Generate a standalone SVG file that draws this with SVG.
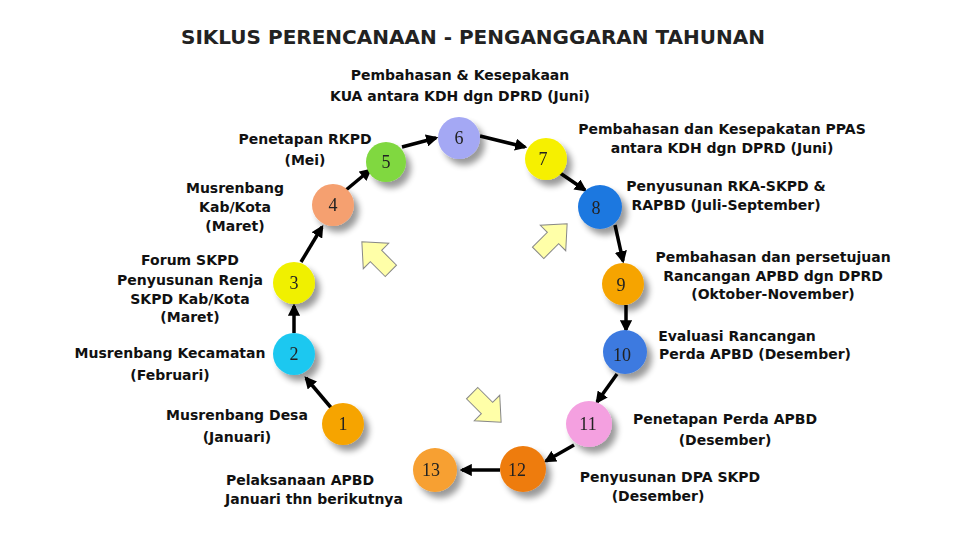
<svg xmlns="http://www.w3.org/2000/svg" width="960" height="540" viewBox="0 0 960 540">
<defs>
<style>
.t{font-family:"DejaVu Sans",Verdana,sans-serif;font-weight:bold;font-size:14px;fill:#111;text-anchor:middle}
.n{font-family:"Liberation Serif",serif;font-size:18px;fill:#222;text-anchor:middle}
.c{stroke:#000;stroke-width:3.5;fill:none;marker-end:url(#ah)}
.blk{fill:#ffffa8;stroke:#888;stroke-width:1}
</style>
<marker id="ah" viewBox="0 0 10 10" refX="8" refY="5" markerWidth="3.5" markerHeight="3.5" orient="auto"><path d="M0,0L10,5L0,10z" fill="#000"/></marker>
<filter id="sh" x="-50%" y="-50%" width="200%" height="200%"><feGaussianBlur in="SourceAlpha" stdDeviation="3"/><feOffset dx="5" dy="6"/><feComponentTransfer><feFuncA type="linear" slope="0.4"/></feComponentTransfer><feMerge><feMergeNode/><feMergeNode in="SourceGraphic"/></feMerge></filter>
<polygon id="blk" points="-21,-8 0,-8 0,-18 20,0 0,18 0,8 -21,8"/>
</defs>
<rect width="960" height="540" fill="#fff"/>
<text x="473" y="44" style="font-family:'DejaVu Sans',Verdana,sans-serif;font-weight:bold;font-size:20px;fill:#222" text-anchor="middle">SIKLUS PERENCANAAN - PENGANGGARAN TAHUNAN</text>
<g id="connectors">
<line class="c" x1="333" y1="410" x2="306" y2="378"/>
<line class="c" x1="294" y1="333" x2="294" y2="306"/>
<line class="c" x1="301" y1="262" x2="322" y2="227"/>
<line class="c" x1="346" y1="190" x2="370" y2="170"/>
<line class="c" x1="402" y1="147" x2="436" y2="138"/>
<line class="c" x1="480" y1="136" x2="525" y2="147"/>
<line class="c" x1="560" y1="173" x2="585" y2="190"/>
<line class="c" x1="615" y1="225" x2="623" y2="261"/>
<line class="c" x1="626" y1="305" x2="626" y2="330"/>
<line class="c" x1="617" y1="374" x2="597" y2="402"/>
<line class="c" x1="574" y1="445" x2="546" y2="461"/>
<line class="c" x1="500" y1="470" x2="462" y2="470"/>
</g>
<g id="hints">
<use href="#blk" class="blk" transform="translate(376,256) rotate(-135)"/>
<use href="#blk" class="blk" transform="translate(553,238) rotate(-45)"/>
<use href="#blk" class="blk" transform="translate(487,408) rotate(45)"/>
</g>
<g id="n1" filter="url(#sh)"><circle cx="343" cy="424" r="21" fill="#f6a400"/><text class="n" x="343" y="430">1</text></g>
<g id="n2" filter="url(#sh)"><circle cx="294" cy="354" r="21" fill="#1ec8f0"/><text class="n" x="294" y="360">2</text></g>
<g id="n3" filter="url(#sh)"><circle cx="294" cy="283" r="21" fill="#f0f000"/><text class="n" x="294" y="289">3</text></g>
<g id="n4" filter="url(#sh)"><circle cx="333" cy="205" r="21" fill="#f5a070"/><text class="n" x="333" y="211">4</text></g>
<g id="n5" filter="url(#sh)"><circle cx="386" cy="162" r="20" fill="#80d840"/><text class="n" x="386" y="168">5</text></g>
<g id="n6" filter="url(#sh)"><circle cx="459" cy="138" r="21" fill="#a4a8f4"/><text class="n" x="459" y="144">6</text></g>
<g id="n7" filter="url(#sh)"><circle cx="546" cy="159" r="21" fill="#f6f000"/><text class="n" x="543" y="165">7</text></g>
<g id="n8" filter="url(#sh)"><circle cx="600" cy="207" r="22" fill="#1e78e0"/><text class="n" x="596" y="214">8</text></g>
<g id="n9" filter="url(#sh)"><circle cx="623" cy="284" r="21" fill="#f6a400"/><text class="n" x="621" y="291">9</text></g>
<g id="n10" filter="url(#sh)"><circle cx="625" cy="352" r="22" fill="#3c7ae0"/><text class="n" x="622" y="361">10</text></g>
<g id="n11" filter="url(#sh)"><circle cx="589" cy="424" r="23" fill="#f4a0e0"/><text class="n" x="588" y="430">11</text></g>
<g id="n12" filter="url(#sh)"><circle cx="523" cy="469" r="23" fill="#ee7c10"/><text class="n" x="517" y="476">12</text></g>
<g id="n13" filter="url(#sh)"><circle cx="435" cy="470" r="22" fill="#f7a030"/><text class="n" x="431" y="476">13</text></g>
<g id="labels">
<text class="t" x="460" y="80">Pembahasan &amp; Kesepakaan</text>
<text class="t" x="460" y="101">KUA  antara KDH dgn DPRD (Juni)</text>
<text class="t" x="305" y="144">Penetapan RKPD</text>
<text class="t" x="305" y="165">(Mei)</text>
<text class="t" x="235" y="193">Musrenbang</text>
<text class="t" x="235" y="212">Kab/Kota</text>
<text class="t" x="235" y="231">(Maret)</text>
<text class="t" x="190" y="265">Forum SKPD</text>
<text class="t" x="190" y="285">Penyusunan Renja</text>
<text class="t" x="190" y="304">SKPD  Kab/Kota</text>
<text class="t" x="190" y="322">(Maret)</text>
<text class="t" x="170" y="358">Musrenbang Kecamatan</text>
<text class="t" x="170" y="380">(Februari)</text>
<text class="t" x="237" y="420">Musrenbang Desa</text>
<text class="t" x="237" y="442">(Januari)</text>
<text class="t" x="300" y="485">Pelaksanaan APBD</text>
<text class="t" x="314" y="504">Januari thn berikutnya</text>
<text class="t" x="722" y="134">Pembahasan dan Kesepakatan PPAS</text>
<text class="t" x="722" y="153">antara KDH dgn DPRD (Juni)</text>
<text class="t" x="726" y="191">Penyusunan RKA-SKPD &amp;</text>
<text class="t" x="726" y="210">RAPBD (Juli-September)</text>
<text class="t" x="773" y="262">Pembahasan dan persetujuan</text>
<text class="t" x="773" y="281">Rancangan APBD dgn DPRD</text>
<text class="t" x="773" y="299">(Oktober-November)</text>
<text class="t" x="737" y="341">Evaluasi Rancangan</text>
<text class="t" x="755" y="359">Perda APBD (Desember)</text>
<text class="t" x="725" y="424">Penetapan Perda APBD</text>
<text class="t" x="725" y="445">(Desember)</text>
<text class="t" x="670" y="482">Penyusunan DPA SKPD</text>
<text class="t" x="658" y="501">(Desember)</text>
</g>
</svg>
